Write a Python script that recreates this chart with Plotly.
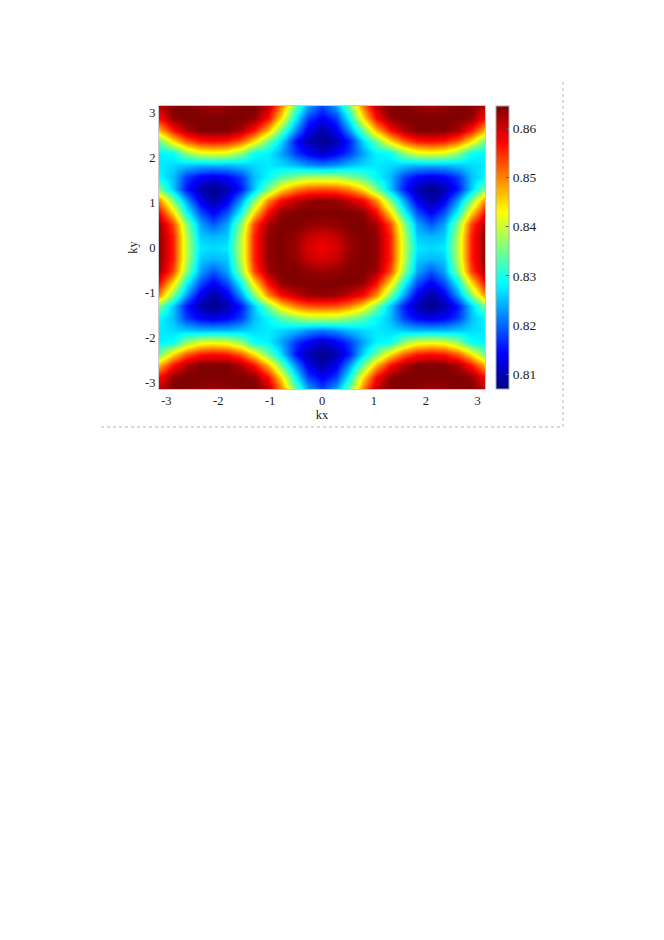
import numpy as np
import plotly.graph_objects as go

# Values for one quadrant (kx >= 0, ky >= 0); the map is mirror symmetric
row_00 = [.858, .8595, .863, .8645, .8635, .8555, .8395, .8275, .8265, .8275, .8395, .8555, .8635]
row_01 = [.8595, .8605, .8635, .8645, .8635, .8555, .839, .8255, .8245, .8255, .839, .8555, .8635]
row_02 = [.863, .8635, .8645, .8645, .8625, .8535, .8365, .8235, .819, .8235, .8365, .8535, .8625]
row_03 = [.8645, .8645, .8645, .8635, .857, .8445, .829, .8185, .8135, .8185, .829, .8445, .857]
row_04 = [.8635, .863, .8605, .857, .8495, .8355, .823, .813, .8085, .813, .823, .8355, .8495]
row_05 = [.853, .8525, .850, .8445, .8355, .8255, .8155, .8095, .8072, .8095, .8155, .8255, .8355]
row_06 = [.8385, .8385, .836, .833, .8285, .825, .8175, .814, .8125, .814, .8175, .825, .8285]
row_07 = [.8215, .8225, .825, .8265, .8275, .8265, .8255, .8245, .8245, .8245, .8255, .8265, .8275]
row_08 = [.811, .8135, .8175, .8235, .828, .829, .8365, .841, .842, .841, .8365, .829, .828]
row_09 = [.8072, .8095, .8155, .8265, .8345, .8445, .852, .856, .857, .856, .852, .8445, .8345]
row_10 = [.809, .813, .8225, .8345, .847, .8565, .862, .8645, .8645, .8645, .862, .8565, .847]
row_11 = [.8135, .8175, .8285, .8445, .857, .8635, .8645, .8645, .8645, .8645, .8645, .8635, .857]
row_12 = [.818, .8235, .8345, .8505, .861, .8645, .8645, .8635, .8625, .8635, .8645, .8645, .861]

quadrant = np.array([row_00, row_01, row_02, row_03, row_04, row_05, row_06,
                     row_07, row_08, row_09, row_10, row_11, row_12])
upper = np.hstack([quadrant[:, :0:-1], quadrant])
z = np.vstack([upper[:0:-1], upper])

kx = np.linspace(-np.pi, np.pi, z.shape[1])
ky = np.linspace(-np.pi, np.pi, z.shape[0])

axis_ticks = [-3, -2, -1, 0, 1, 2, 3]
axis_labels = ["-3", "-2", "-1", "0", "1", "2", "3"]
cbar_ticks = [0.81, 0.82, 0.83, 0.84, 0.85, 0.86]
cbar_labels = ["0.81", "0.82", "0.83", "0.84", "0.85", "0.86"]
z_min, z_max = 0.807, 0.8645

jet = [[0, "rgb(0,0,135)"], [0.125, "rgb(0,0,255)"], [0.375, "rgb(0,255,255)"],
       [0.625, "rgb(255,255,0)"], [0.875, "rgb(255,0,0)"], [1, "rgb(127,0,0)"]]

font = dict(family="Liberation Serif", size=12.5, color="#222222")
cbar_font = dict(family="Liberation Serif", size=13.5, color="#222222")

fig = go.Figure(go.Heatmap(
    x=kx, y=ky, z=z, zmin=z_min, zmax=z_max, zsmooth="best", colorscale=jet,
    colorbar=dict(
        x=1.0325, xanchor="left", y=0.5, yanchor="middle", len=1.0, lenmode="fraction",
        thickness=13, thicknessmode="pixels", xpad=0, ypad=0,
        outlinecolor="#aaaaaa", outlinewidth=1,
        ticks="inside", ticklen=3, tickcolor="#555555", tickwidth=1,
        tickvals=cbar_ticks, ticktext=cbar_labels, tickfont=cbar_font,
    ),
))

axis_common = dict(
    range=[-np.pi, np.pi], tickmode="array", tickvals=axis_ticks, ticktext=axis_labels,
    tickfont=font, ticks="", showgrid=False, zeroline=False,
    showline=True, mirror=True, linecolor="#c8c8c8", linewidth=1,
)

fig.update_layout(
    width=664, height=940, autosize=False,
    margin=dict(l=151, r=187, t=98, b=559),
    paper_bgcolor="white", plot_bgcolor="white",
    xaxis=dict(title=dict(text="kx", font=font, standoff=1), **axis_common),
    yaxis=dict(title=dict(text="ky", font=font, standoff=4), **axis_common),
    shapes=[
        dict(type="line", xref="paper", yref="paper", x0=1.239, x1=1.239, y0=-0.134, y1=1.085,
             line=dict(color="#b5b5b5", width=1, dash="dot")),
        dict(type="line", xref="paper", yref="paper", x0=-0.178, x1=1.239, y0=-0.134, y1=-0.134,
             line=dict(color="#b5b5b5", width=1, dash="dot")),
    ],
)

fig.write_html("out.html")
